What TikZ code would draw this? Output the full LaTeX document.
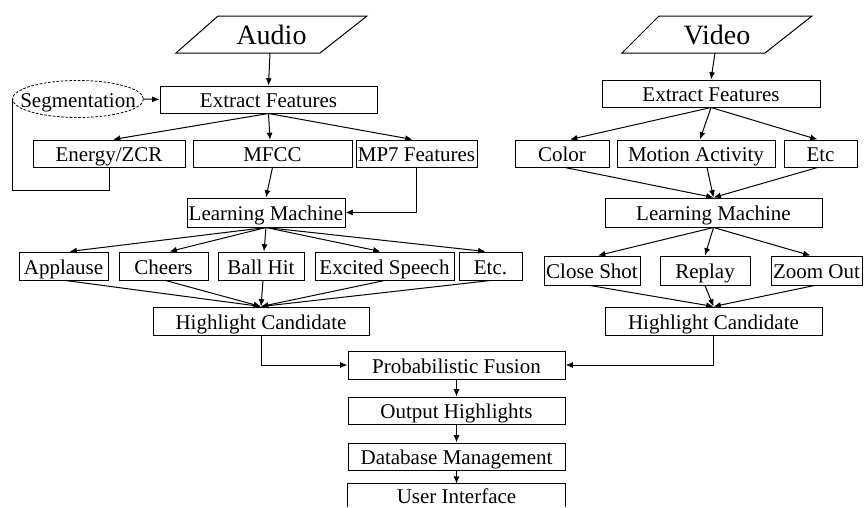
\documentclass[tikz,border=0pt]{standalone}
\usepackage{fontspec}
\setmainfont{Liberation Serif}
\usetikzlibrary{arrows.meta,calc}

\tikzset{
  px/.style={x=0.75pt,y=-0.75pt},
  txt/.style={font=\fontsize{15.75}{18}\selectfont, text height=12pt, text depth=0pt},
  box/.style={draw, line width=0.75pt, inner sep=0pt, txt},
  wh/.style 2 args={minimum width=#1*0.75pt, minimum height=#2*0.75pt},
  segline/.style={draw, dash pattern=on 2pt off 1.2pt, line width=0.6pt},
  src/.style={inner sep=0pt, font=\fontsize{21}{24}\selectfont},
  inbox/.style={draw, line width=0.75pt, line join=miter},
  arr/.style={line width=0.75pt, -{Latex[length=5.5pt,width=4.5pt]}},
  ln/.style={line width=0.75pt},
}

\begin{document}
\begin{tikzpicture}[px]
\useasboundingbox (0,0) rectangle (864,507);
\clip (0,0) rectangle (864,507);

% input parallelograms
\draw[inbox] (218,16) -- (367,16) -- (320,53) -- (176,53) -- cycle;
\node[src] (audio) at (271.5,35) {Audio};
\coordinate (audioOut) at (270,53);
\draw[inbox] (659,16) -- (812,16) -- (765,53) -- (622,53) -- cycle;
\node[src] (video) at (717,35) {Video};
\coordinate (videoOut) at (715,53);

% audio branch
\node[box, wh={217}{27}] (aEF) at (268.5,99.5) {Extract Features};
\node[txt, inner sep=0pt, wh={131}{37}] (segm) at (78,99) {Segmentation};
\draw[segline] (segm.center) ellipse [x radius=65.5, y radius=18.5];
\node[box, wh={152}{27}] (energy) at (109,153.5) {Energy/ZCR};
\node[box, wh={159}{27}] (mfcc) at (272.5,153.5) {MFCC};
\node[box, wh={121}{27}] (mp7) at (416.5,153.5) {MP7 Features};
\node[box, wh={158}{29}] (aLM) at (266,212.5) {Learning Machine};
\node[box, wh={89}{28}] (applause) at (63.5,266) {Applause};
\node[box, wh={89}{28}] (cheers) at (163.5,266) {Cheers};
\node[box, wh={86}{28}] (ballhit) at (261,266) {Ball Hit};
\node[box, wh={139}{28}] (excited) at (384.5,266) {Excited Speech};
\node[box, wh={63}{28}] (aetc) at (490.5,266) {Etc.};
\node[box, wh={216}{28}] (aHC) at (261,321) {Highlight Candidate};

% video branch
\node[box, wh={218}{27}] (vEF) at (711,93.5) {Extract Features};
\node[box, wh={94}{27}] (color) at (562,153.5) {Color};
\node[box, wh={158}{27}] (motion) at (696,153.5) {Motion Activity};
\node[box, wh={73}{27}] (vetc) at (820.5,153.5) {Etc};
\node[box, wh={217}{29}] (vLM) at (713.5,212.5) {Learning Machine};
\node[box, wh={96}{29}] (close) at (592,270.5) {Close Shot};
\node[box, wh={90}{29}] (replay) at (705,270.5) {Replay};
\node[box, wh={91}{29}] (zoom) at (816.5,270.5) {Zoom Out};
\node[box, wh={217}{28}] (vHC) at (713.5,321) {Highlight Candidate};

% common tail
\node[box, wh={217}{28}] (fusion) at (456.5,365) {Probabilistic Fusion};
\node[box, wh={217}{27}] (output) at (456.5,410.5) {Output Highlights};
\node[box, wh={217}{27}] (dbm) at (456.5,456.5) {Database Management};
% last box runs off the lower edge: top and sides only
\node[txt, inner sep=0pt, wh={217}{23}] (ui) at (456.5,495.5) {User Interface};
\draw[ln] (ui.south west) -- (ui.north west) -- (ui.north east) -- (ui.south east);

% audio connectors
\draw[arr] (audioOut) -- (aEF.north);
\draw[arr] (segm.east) -- (aEF.west);
\draw[ln] (energy.south) -- ++(0,23) -| (segm.west);
\draw[arr] (aEF.south) -- ($(energy.north)+(4,0)$);
\draw[arr] (aEF.south) -- (270,140);
\draw[arr] (aEF.south) -- ($(mp7.north)+(-4,0)$);
\draw[arr] (mfcc.south) -- (aLM.north);
\draw[arr] (mp7.south) |- (aLM.east);
\foreach \b/\dx in {applause/6, cheers/6, ballhit/3, excited/-4, aetc/-5}
  \draw[arr] (aLM.south) -- ($(\b.north)+(\dx,0)$);
\foreach \b/\dx in {applause/2, cheers/2, ballhit/2, excited/0, aetc/0}
  \draw[arr] ($(\b.south)+(\dx,0)$) -- (aHC.north);
\draw[arr] (aHC.south) |- (fusion.west);

% video connectors
\draw[arr] (videoOut) -- (vEF.north);
\draw[arr] (vEF.south) -- ($(color.north)+(8,0)$);
\draw[arr] (vEF.south) -- ($(motion.north)+(4,0)$);
\draw[arr] (vEF.south) -- ($(vetc.north)+(-3,0)$);
\foreach \b/\dx in {color/3, motion/11, vetc/-3}
  \draw[arr] ($(\b.south)+(\dx,0)$) -- (vLM.north);
\draw[arr] (vLM.south) -- ($(close.north)+(6,0)$);
\draw[arr] (vLM.south) -- (replay.north);
\draw[arr] (vLM.south) -- ($(zoom.north)+(-6,0)$);
\foreach \b/\dx in {close/-2, replay/0, zoom/-2}
  \draw[arr] ($(\b.south)+(\dx,0)$) -- (vHC.north);
\draw[arr] (vHC.south) |- (fusion.east);

% tail connectors
\draw[arr] (fusion.south) -- (output.north);
\draw[arr] (output.south) -- (dbm.north);
\draw[arr] (dbm.south) -- (ui.north);
\end{tikzpicture}
\end{document}
